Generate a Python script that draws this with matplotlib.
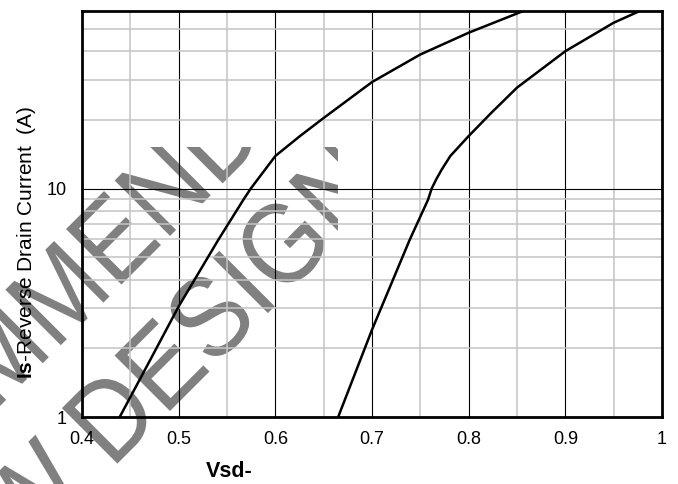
import matplotlib
matplotlib.use("Agg")
import matplotlib.pyplot as plt
from matplotlib.font_manager import FontProperties
from matplotlib.patches import PathPatch
from matplotlib.textpath import TextPath
from matplotlib.ticker import FixedLocator, NullFormatter
from matplotlib.transforms import Affine2D, Bbox, IdentityTransform, TransformedBbox

plt.rcParams["font.family"] = ["Liberation Sans", "DejaVu Sans"]
plt.rcParams["mathtext.fontset"] = "custom"
plt.rcParams["mathtext.rm"] = "Liberation Sans"
plt.rcParams["mathtext.bf"] = "Liberation Sans:bold"

# body diode curves (Vsd in V, Is in A)
vsd_a = [0.439, 0.470, 0.500, 0.541, 0.567, 0.5745, 0.600, 0.6255, 0.650, 0.700, 0.750, 0.800, 0.8565]
is_a = [1.0, 1.76, 3.05, 5.97, 8.95, 10.0, 13.9, 17.0, 20.4, 29.3, 38.7, 48.2, 60.0]
vsd_b = [0.665, 0.700, 0.739, 0.758, 0.7617, 0.7665, 0.772, 0.781, 0.800, 0.8235, 0.850, 0.900, 0.950, 0.977]
is_b = [1.0, 2.41, 5.97, 8.95, 10.0, 11.0, 12.1, 13.9, 17.0, 21.5, 27.7, 40.0, 53.3, 60.0]

x_major = [0.4, 0.5, 0.6, 0.7, 0.8, 0.9, 1.0]
x_labels = ["0.4", "0.5", "0.6", "0.7", "0.8", "0.9", "1"]
x_minor = [0.45, 0.55, 0.65, 0.75, 0.85, 0.95]
y_major = [1, 10]
y_labels = ["1", "10"]
y_minor = [2, 3, 4, 5, 6, 7, 8, 9, 20, 30, 40, 50]

watermark = ["NOT RECOMMENDED", "FOR NEW DESIGN"]

W, H = 678, 484
fig = plt.figure(figsize=(W / 100, H / 100), dpi=100)
ax = fig.add_axes([82 / W, (H - 417) / H, 580 / W, 406 / H])
ax.set_facecolor("none")

ax.set_yscale("log")
ax.set_xlim(0.4, 1.0)
ax.set_ylim(1, 60)
ax.xaxis.set_major_locator(FixedLocator(x_major))
ax.set_xticklabels(x_labels)
ax.xaxis.set_minor_locator(FixedLocator(x_minor))
ax.yaxis.set_major_locator(FixedLocator(y_major))
ax.set_yticklabels(y_labels)
ax.yaxis.set_minor_locator(FixedLocator(y_minor))
ax.yaxis.set_minor_formatter(NullFormatter())

ax.grid(which="minor", color="#c4c4c4", lw=1.1)
ax.grid(which="major", color="black", lw=0.8)
ax.tick_params(which="both", length=0, labelsize=13)
ax.tick_params(axis="x", pad=10)
ax.tick_params(axis="y", pad=11)
for s in ax.spines.values():
    s.set_linewidth(2)
    s.set_zorder(5)

ax.plot(vsd_a, is_a, color="black", lw=1.8, zorder=4)
ax.plot(vsd_b, is_b, color="black", lw=1.8, zorder=4)

ax.set_ylabel(r"$\mathbf{Is}$-Reverse Drain Current  (A)", fontsize=15)
ax.yaxis.set_label_coords(-0.076, 0.431)
ax.set_xlabel("Vsd-", fontsize=15.5, fontweight="bold")
ax.xaxis.set_label_coords(0.253, -0.108)

# grey diagonal watermark, clipped to its stamp box
fp = FontProperties(family="Liberation Sans")
clip = TransformedBbox(Bbox.from_extents(0, 0, 338 / W, (H - 147) / H), fig.transFigure)
for text, (bx, by) in zip(watermark, [(-8, 414), (69, 512)]):
    tp = TextPath((0, 0), text, size=1, prop=fp)
    ext = tp.get_extents()
    tr = (Affine2D().translate(-(ext.x0 + ext.x1) / 2, 0).scale(103, 114)
          .rotate_deg(45).translate(bx, H - by))
    p = PathPatch(tr.transform_path(tp), facecolor="#808080", edgecolor="none",
                  transform=IdentityTransform(), zorder=-1)
    p.set_clip_box(clip)
    fig.add_artist(p)

fig.savefig("out.png", dpi=100)
